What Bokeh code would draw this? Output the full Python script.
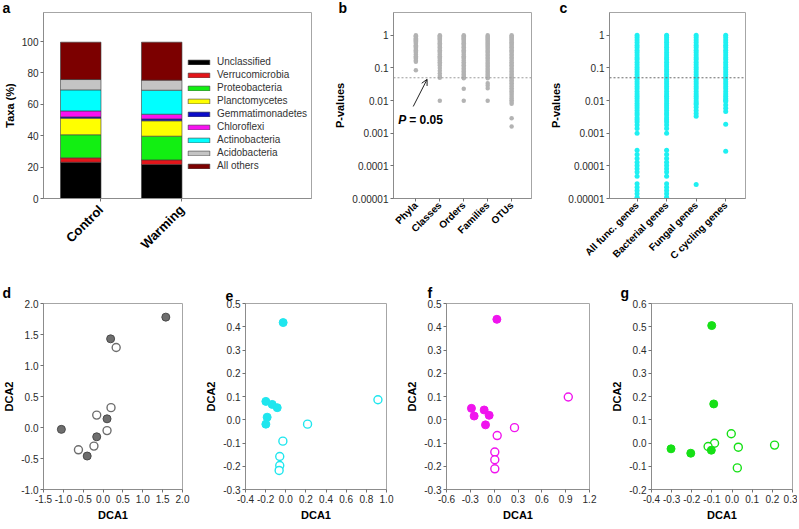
import math
import numpy as np
from bokeh.plotting import figure
from bokeh.layouts import row, column
from bokeh.models import (Range1d, FixedTicker, Span, Label, Arrow, OpenHead,
                          Legend, LegendItem, PrintfTickFormatter)
from bokeh.embed import file_html
from bokeh.resources import INLINE

FONT = "Liberation Sans"

# ---------------- data: panel a ----------------
groups = ["Control", "Warming"]
taxa = ["Unclassified", "Verrucomicrobia", "Proteobacteria", "Planctomycetes",
        "Gemmatimonadetes", "Chloroflexi", "Actinobacteria", "Acidobacteria", "All others"]
control_pct = [23.1, 2.8, 14.7, 10.6, 0.8, 3.8, 13.4, 6.6, 23.8]
warming_pct = [21.7, 2.9, 15.1, 9.8, 1.2, 3.0, 15.3, 6.4, 24.2]
taxa_colors = ["#000000", "#e3151a", "#12ef12", "#ffff00", "#0c0cc8",
               "#f812f0", "#00ffff", "#c4c4c4", "#7c0000"]
pct_ticks = [0, 20, 40, 60, 80, 100]

# ---------------- data: panel b ----------------
levels = ["Phyla", "Classes", "Orders", "Families", "OTUs"]
phyla_p = [1.0, 0.94, 0.88, 0.82, 0.76, 0.71, 0.66, 0.6, 0.55, 0.5, 0.46, 0.42, 0.38,
           0.35, 0.32, 0.29, 0.26, 0.23, 0.21, 0.19, 0.17, 0.155, 0.085]
classes_p = [1.0, 0.93, 0.86, 0.8, 0.74, 0.68, 0.62, 0.57, 0.52, 0.47, 0.43, 0.39, 0.35,
             0.32, 0.29, 0.26, 0.23, 0.21, 0.19, 0.17, 0.15, 0.135, 0.118, 0.1, 0.082,
             0.068, 0.057, 0.05, 0.0098]
orders_p = [1.0, 0.93, 0.86, 0.8, 0.74, 0.68, 0.62, 0.57, 0.52, 0.47, 0.43, 0.39, 0.35,
            0.32, 0.29, 0.26, 0.23, 0.21, 0.19, 0.17, 0.15, 0.135, 0.12, 0.108, 0.097,
            0.087, 0.078, 0.07, 0.063, 0.057, 0.052, 0.048, 0.023, 0.0098]
families_p = [1.0, 0.92, 0.85, 0.79, 0.73, 0.67, 0.61, 0.56, 0.51, 0.47, 0.43, 0.39, 0.35,
              0.32, 0.29, 0.26, 0.235, 0.21, 0.19, 0.17, 0.15, 0.135, 0.12, 0.108, 0.097,
              0.087, 0.078, 0.07, 0.063, 0.057, 0.052, 0.048, 0.034, 0.029, 0.024, 0.0098]
otus_p = [1.0, 0.92, 0.85, 0.79, 0.73, 0.67, 0.61, 0.56, 0.51, 0.47, 0.43, 0.39, 0.35,
          0.32, 0.29, 0.26, 0.235, 0.21, 0.19, 0.17, 0.15, 0.135, 0.12, 0.108, 0.097,
          0.087, 0.078, 0.07, 0.063, 0.057, 0.052, 0.047, 0.042, 0.038, 0.034, 0.03,
          0.027, 0.024, 0.021, 0.019, 0.017, 0.015, 0.013, 0.0115, 0.0102, 0.009, 0.008,
          0.0029, 0.0016]
level_p = [phyla_p, classes_p, orders_p, families_p, otus_p]

# ---------------- data: panel c ----------------
gene_groups = ["All func. genes", "Bacterial genes", "Fungal genes", "C cycling genes"]
allfunc_p = [1.0, 0.85, 0.72, 0.6, 0.5, 0.42, 0.35, 0.3, 0.25, 0.21, 0.18, 0.15, 0.125,
             0.105, 0.09, 0.075, 0.063, 0.053, 0.045, 0.038, 0.032, 0.027, 0.023, 0.019,
             0.016, 0.0135, 0.0115, 0.0097, 0.0082, 0.007, 0.0059, 0.005, 0.0042, 0.0036,
             0.003, 0.0026, 0.0022, 0.0018, 0.0014, 0.001, 0.0003, 0.000224, 0.000169,
             0.00013, 0.000103, 0.0000813, 0.0000643, 0.0000484, 0.0000282, 0.0000223,
             0.0000176, 0.0000139, 0.000011, 0.00001]
bacterial_p = [1.0, 0.86, 0.73, 0.61, 0.51, 0.43, 0.36, 0.3, 0.25, 0.21, 0.18, 0.15,
               0.126, 0.106, 0.09, 0.076, 0.064, 0.054, 0.045, 0.038, 0.032, 0.027, 0.023,
               0.019, 0.016, 0.0135, 0.0115, 0.0097, 0.0082, 0.007, 0.0059, 0.005, 0.0042,
               0.0036, 0.003, 0.0026, 0.0022, 0.0018, 0.0014, 0.001, 0.0003, 0.000224,
               0.000169, 0.00013, 0.000103, 0.0000813, 0.0000643, 0.0000484, 0.0000282,
               0.0000223, 0.0000176, 0.0000139, 0.000011, 0.00001]
fungal_p = [1.0, 0.85, 0.72, 0.6, 0.5, 0.42, 0.35, 0.3, 0.25, 0.21, 0.18, 0.15, 0.125,
            0.105, 0.09, 0.075, 0.063, 0.053, 0.045, 0.038, 0.032, 0.027, 0.023, 0.019,
            0.016, 0.0135, 0.0115, 0.0097, 0.0085, 0.0076, 0.0063, 0.005, 0.004, 0.0033,
            0.000027]
ccycling_p = [1.0, 0.85, 0.72, 0.6, 0.5, 0.42, 0.35, 0.3, 0.25, 0.21, 0.18, 0.15, 0.125,
              0.105, 0.09, 0.075, 0.063, 0.053, 0.045, 0.038, 0.032, 0.027, 0.023, 0.019,
              0.016, 0.0135, 0.0115, 0.0102, 0.0093, 0.0073, 0.0058, 0.0046, 0.0019,
              0.00028]
gene_p = [allfunc_p, bacterial_p, fungal_p, ccycling_p]

p_ticks = [0.00001, 0.0001, 0.001, 0.01, 0.1, 1.0]
p_tick_labels = ["0.00001", "0.0001", "0.001", "0.01", "0.1", "1"]
p_threshold = 0.05

# ---------------- data: panels d-g (DCA) ----------------
d_filled_x = [1.58, 0.19, 0.10, -0.16, -0.40, -1.05]
d_filled_y = [1.78, 1.43, 0.14, -0.15, -0.46, -0.03]
d_open_x = [0.33, 0.20, -0.16, 0.10, -0.23, -0.62]
d_open_y = [1.29, 0.32, 0.20, -0.05, -0.30, -0.36]

e_filled_x = [-0.026, -0.198, -0.135, -0.085, -0.185, -0.198]
e_filled_y = [0.418, 0.079, 0.066, 0.052, 0.011, -0.019]
e_open_x = [0.915, 0.216, -0.029, -0.060, -0.060, -0.066]
e_open_y = [0.086, -0.019, -0.092, -0.158, -0.197, -0.218]

f_filled_x = [0.034, -0.286, -0.252, -0.126, -0.063, -0.109]
f_filled_y = [0.432, 0.049, 0.016, 0.042, 0.019, -0.022]
f_open_x = [0.933, 0.256, 0.038, 0.008, 0.008, 0.008]
f_open_y = [0.098, -0.034, -0.068, -0.139, -0.172, -0.211]

g_filled_x = [-0.101, -0.091, -0.303, -0.205, -0.103]
g_filled_y = [0.505, 0.168, -0.025, -0.044, -0.031]
g_open_x = [-0.004, -0.087, -0.119, 0.031, 0.026, 0.211]
g_open_y = [0.040, -0.001, -0.015, -0.018, -0.107, -0.009]

d_xticks = [-1.5, -1.0, -0.5, 0.0, 0.5, 1.0, 1.5, 2.0]
d_yticks = [-1.0, -0.5, 0.0, 0.5, 1.0, 1.5, 2.0]
e_xticks = [-0.4, -0.2, 0.0, 0.2, 0.4, 0.6, 0.8, 1.0]
e_yticks = [-0.3, -0.2, -0.1, 0.0, 0.1, 0.2, 0.3, 0.4, 0.5]
f_xticks = [-0.6, -0.3, 0.0, 0.3, 0.6, 0.9, 1.2]
f_yticks = [-0.3, -0.2, -0.1, 0.0, 0.1, 0.2, 0.3, 0.4, 0.5]
g_xticks = [-0.4, -0.3, -0.2, -0.1, 0.0, 0.1, 0.2, 0.3]
g_yticks = [-0.2, -0.1, 0.0, 0.1, 0.2, 0.3, 0.4, 0.5, 0.6]


def make_fig(width, height, left, right, top, bottom, x_range, y_range, letter, letter_dx,
             title_standoff=0, y_axis_type="linear"):
    p = figure(width=width, height=height, x_range=x_range, y_range=y_range,
               y_axis_type=y_axis_type, output_backend="svg", toolbar_location=None,
               min_border_left=left, min_border_right=right,
               min_border_top=top, min_border_bottom=bottom)
    p.title.text = letter
    p.title.align = "left"
    p.title.offset = letter_dx
    p.title.standoff = title_standoff
    p.title.text_font = FONT
    p.title.text_font_size = "14px"
    p.title.text_font_style = "bold"
    p.title.text_color = "black"
    p.xgrid.visible = False
    p.ygrid.visible = False
    p.outline_line_color = "#a6a6a6"
    p.outline_line_width = 1
    p.border_fill_color = "white"
    p.background_fill_color = "white"
    for ax in (p.xaxis[0], p.yaxis[0]):
        ax.axis_line_color = "#8c8c8c"
        ax.major_tick_line_color = "#707070"
        ax.major_tick_in = 0
        ax.major_tick_out = 3
        ax.minor_tick_line_color = None
        ax.major_label_text_font = FONT
        ax.major_label_text_font_size = "10px"
        ax.major_label_text_color = "#2a2a2a"
        ax.major_label_standoff = 2
        ax.axis_label_text_font = FONT
        ax.axis_label_text_font_size = "11px"
        ax.axis_label_text_font_style = "bold"
        ax.axis_label_text_color = "black"
        ax.axis_label_standoff = 3
    return p


# ================= panel a =================
TOP_H = 279
TOP_T = 12
TOP_B = 81
TOP_SO = -6
pa = make_fig(331, TOP_H, 41, 20, TOP_T, TOP_B, Range1d(0.54, 3.85), Range1d(0, 118.5),
              "a", -41, TOP_SO)
xs = list(range(1, len(groups) + 1))
bar_w = 0.5
vals = np.array([control_pct, warming_pct])
bottoms = np.zeros(len(groups))
bar_renderers = []
for j, taxon in enumerate(taxa):
    tops = bottoms + vals[:, j]
    r = pa.vbar(x=xs, bottom=bottoms.copy(), top=tops.copy(), width=bar_w,
                fill_color=taxa_colors[j], line_color="#3a3a3a", line_width=0.6)
    bar_renderers.append(r)
    bottoms = tops

legend_items = [LegendItem(label=t, renderers=[r]) for t, r in zip(taxa, bar_renderers)]
leg = Legend(items=legend_items, location=(142, 26), padding=0, margin=0, spacing=0,
             glyph_width=27, glyph_height=6, label_height=13, label_standoff=5,
             border_line_color=None, background_fill_alpha=0,
             label_text_font=FONT, label_text_font_size="10px", label_text_color="#333333")
pa.add_layout(leg)

pa.yaxis.ticker = FixedTicker(ticks=pct_ticks, minor_ticks=[])
pa.yaxis.axis_label = "Taxa (%)"
tick_pos_a = [x + bar_w / 2 for x in xs]
pa.xaxis.ticker = FixedTicker(ticks=tick_pos_a, minor_ticks=[])
pa.xaxis.major_label_overrides = {t: g for t, g in zip(tick_pos_a, groups)}
pa.xaxis.major_label_orientation = math.pi / 4
pa.xaxis.major_label_text_font_size = "13px"
pa.xaxis.major_label_text_font_style = "bold"
pa.xaxis.major_label_text_color = "black"
pa.xaxis.major_label_standoff = 6

# ================= panel b =================
pb = make_fig(216, TOP_H, 60, 16, TOP_T, TOP_B, Range1d(0.066, 5.83), Range1d(0.00001, 5.0),
              "b", -55, TOP_SO, y_axis_type="log")
for i, vals_p in enumerate(level_p):
    pb.scatter(x=[i + 1] * len(vals_p), y=vals_p, size=4.5, fill_color="#b3b3b3",
               line_color=None)
pb.add_layout(Span(location=p_threshold, dimension="width", line_color="#9a9a9a",
                   line_dash="2 2", line_width=1))
pb.yaxis.ticker = FixedTicker(ticks=p_ticks, minor_ticks=[])
pb.yaxis.major_label_overrides = {t: s for t, s in zip(p_ticks, p_tick_labels)}
pb.yaxis.axis_label = "P-values"
lv_pos = list(range(1, len(levels) + 1))
pb.xaxis.ticker = FixedTicker(ticks=lv_pos, minor_ticks=[])
pb.xaxis.major_label_overrides = {t: s for t, s in zip(lv_pos, levels)}
pb.xaxis.major_label_orientation = math.pi / 4
pb.xaxis.major_label_text_font_style = "bold"
pb.xaxis.major_label_text_color = "black"
pb.add_layout(Arrow(end=OpenHead(size=6, line_width=1, line_color="#222222"),
                    x_start=0.89, y_start=0.0066, x_end=1.47, y_end=0.045,
                    line_width=1, line_color="#222222"))
pb.add_layout(Label(x=0.26, y=0.0026, text="P", text_font=FONT, text_font_size="12px",
                    text_font_style="bold italic", text_baseline="middle", text_color="black"))
pb.add_layout(Label(x=0.26, y=0.0026, x_offset=11, text="= 0.05", text_font=FONT,
                    text_font_size="12px", text_font_style="bold", text_baseline="middle",
                    text_color="black"))

# ================= panel c =================
pc = make_fig(250, TOP_H, 60, 52, TOP_T, TOP_B, Range1d(0.067, 4.67), Range1d(0.00001, 5.0),
              "c", -50, TOP_SO, y_axis_type="log")
for i, vals_p in enumerate(gene_p):
    pc.scatter(x=[i + 1] * len(vals_p), y=vals_p, size=5, fill_color="#1ff0f2",
               line_color=None)
pc.add_layout(Span(location=p_threshold, dimension="width", line_color="#6a6a6a",
                   line_dash="2 2", line_width=1))
pc.yaxis.ticker = FixedTicker(ticks=p_ticks, minor_ticks=[])
pc.yaxis.major_label_overrides = {t: s for t, s in zip(p_ticks, p_tick_labels)}
pc.yaxis.axis_label = "P-values"
gg_pos = list(range(1, len(gene_groups) + 1))
pc.xaxis.ticker = FixedTicker(ticks=gg_pos, minor_ticks=[])
pc.xaxis.major_label_overrides = {t: s for t, s in zip(gg_pos, gene_groups)}
pc.xaxis.major_label_orientation = math.pi / 4
pc.xaxis.major_label_text_font_style = "bold"
pc.xaxis.major_label_text_color = "black"


# ================= panels d-g =================
BOT_H = 248
BOT_T = 24
BOT_SO = 6


def dca_panel(width, left, right, xticks, yticks, fx, fy, ox, oy, color, edge, letter, ldx):
    p = make_fig(width, BOT_H, left, right, BOT_T, 38,
                 Range1d(xticks[0], xticks[-1]), Range1d(yticks[0], yticks[-1]), letter, ldx,
                 BOT_SO)
    p.scatter(x=ox, y=oy, size=8, fill_color="white", line_color=color, line_width=1.4)
    p.scatter(x=fx, y=fy, size=8, fill_color=color, line_color=edge, line_width=1)
    p.xaxis.ticker = FixedTicker(ticks=xticks, minor_ticks=[])
    p.yaxis.ticker = FixedTicker(ticks=yticks, minor_ticks=[])
    p.xaxis.formatter = PrintfTickFormatter(format="%.1f")
    p.yaxis.formatter = PrintfTickFormatter(format="%.1f")
    p.xaxis.axis_label = "DCA1"
    p.yaxis.axis_label = "DCA2"
    return p


pd_ = dca_panel(201, 41, 19, d_xticks, d_yticks, d_filled_x, d_filled_y, d_open_x, d_open_y,
                "#6e6e6e", "#4a4a4a", "d", -41)
pe = dca_panel(201, 44, 16, e_xticks, e_yticks, e_filled_x, e_filled_y, e_open_x, e_open_y,
               "#1fe6ee", "#1fe6ee", "e", -20)
pf = dca_panel(205, 44, 18, f_xticks, f_yticks, f_filled_x, f_filled_y, f_open_x, f_open_y,
               "#f014ee", "#f014ee", "f", -19)
pg = dca_panel(190, 44, 5, g_xticks, g_yticks, g_filled_x, g_filled_y, g_open_x, g_open_y,
               "#16e016", "#16e016", "g", -31)

layout = column(row(pa, pb, pc), row(pd_, pe, pf, pg))

with open("out.html", "w") as fh:
    fh.write(file_html(layout, INLINE))
